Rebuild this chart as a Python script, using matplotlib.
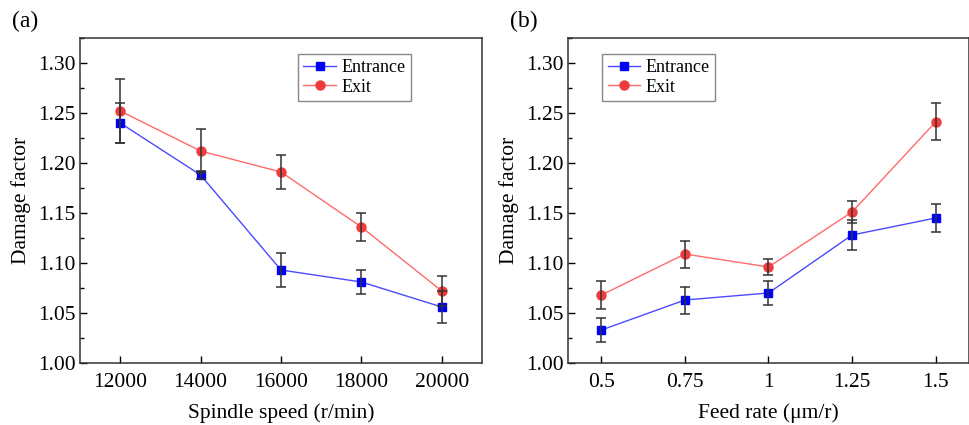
import numpy as np
import matplotlib
matplotlib.use("Agg")
import matplotlib.pyplot as plt
from matplotlib.ticker import MultipleLocator, FormatStrFormatter

matplotlib.rcParams["font.family"] = "Liberation Serif"

# (a) spindle speed
speed = [12000, 14000, 16000, 18000, 20000]
speed_entrance = [1.240, 1.188, 1.093, 1.081, 1.056]
speed_entrance_err = [0.020, 0.004, 0.017, 0.012, 0.016]
speed_exit = [1.252, 1.212, 1.191, 1.136, 1.072]
speed_exit_err = [0.032, 0.022, 0.017, 0.014, 0.015]

# (b) feed rate
feed = [0.5, 0.75, 1.0, 1.25, 1.5]
feed_labels = ["0.5", "0.75", "1", "1.25", "1.5"]
feed_entrance = [1.033, 1.063, 1.070, 1.128, 1.145]
feed_entrance_err = [0.012, 0.0135, 0.0125, 0.015, 0.014]
feed_exit = [1.068, 1.109, 1.096, 1.151, 1.241]
feed_exit_err = [0.014, 0.0135, 0.0075, 0.011, 0.0185]

tick_size = 15.5
label_size = 15.5

fig = plt.figure(figsize=(9.7, 4.25), dpi=100)
ax_a = fig.add_axes([80 / 970, 62 / 425, 402 / 970, 325 / 425])
ax_b = fig.add_axes([568 / 970, 62 / 425, 401 / 970, 325 / 425])


def draw(ax, x, ent, ent_err, ex, ex_err, leg_x):
    ax.plot(x, ent, "-", color="#4a4aff", linewidth=1.0, marker="s",
            markersize=5.5, markerfacecolor="#0000ff", markeredgecolor="#0000ff",
            label="Entrance", zorder=3)
    ax.plot(x, ex, "-", color="#ff6a6a", linewidth=1.0, marker="o",
            markersize=6.5, markerfacecolor="#ef3b3b", markeredgecolor="#ef3b3b",
            label="Exit", zorder=3)
    ax.errorbar(x, ent, yerr=ent_err, fmt="none", ecolor="#333333",
                elinewidth=1.1, capsize=3.5, capthick=1.1, zorder=4)
    ax.errorbar(x, ex, yerr=ex_err, fmt="none", ecolor="#333333",
                elinewidth=1.1, capsize=3.5, capthick=1.1, zorder=4)

    ax.set_ylim(1.00, 1.325)
    ax.yaxis.set_major_locator(MultipleLocator(0.05))
    ax.yaxis.set_minor_locator(MultipleLocator(0.025))
    ax.yaxis.set_major_formatter(FormatStrFormatter("%.2f"))
    ax.tick_params(axis="y", which="major", direction="in", length=5,
                   width=1, labelsize=tick_size, pad=3)
    ax.tick_params(axis="x", which="major", direction="in", length=5,
                   width=1, labelsize=tick_size, pad=7)
    ax.tick_params(axis="y", which="minor", direction="in", length=3, width=1)
    for s in ax.spines.values():
        s.set_linewidth(1.1)
        s.set_color("#333333")
    ax.set_ylabel("Damage factor", fontsize=label_size, labelpad=5)
    ax.legend(loc="upper left", bbox_to_anchor=(leg_x, 0.952), fontsize=13,
              frameon=True, fancybox=False, edgecolor="#888888",
              framealpha=1, handlelength=1.8, borderpad=0.3,
              labelspacing=0.15, handletextpad=0.3, borderaxespad=0)


draw(ax_a, speed, speed_entrance, speed_entrance_err, speed_exit,
     speed_exit_err, 0.542)
ax_a.set_xlim(11000, 21000)
ax_a.set_xticks(speed)
ax_a.set_xlabel("Spindle speed (r/min)", fontsize=label_size, labelpad=8)

draw(ax_b, feed, feed_entrance, feed_entrance_err, feed_exit,
     feed_exit_err, 0.085)
ax_b.set_xlim(0.4, 1.6)
ax_b.set_xticks(feed)
ax_b.set_xticklabels(feed_labels)
ax_b.set_xlabel("Feed rate (\u03bcm/r)", fontsize=label_size, labelpad=8)

fig.text(12 / 970, 1 - 21 / 425, "(a)", fontsize=17, va="center", ha="left")
fig.text(510 / 970, 1 - 21 / 425, "(b)", fontsize=17, va="center", ha="left")

fig.savefig("out.png", dpi=100)
